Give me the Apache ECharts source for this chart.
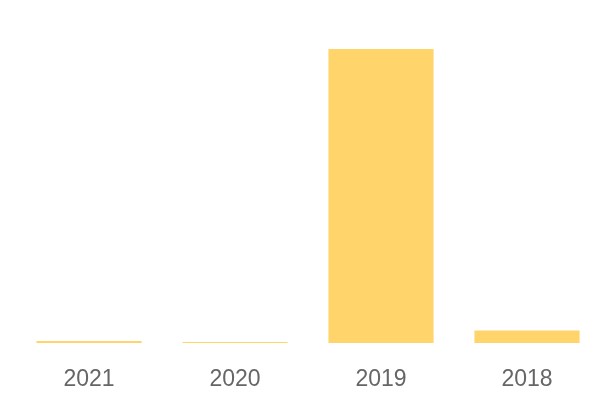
<!DOCTYPE html>
<html><head><meta charset="utf-8">
<script src="https://cdn.jsdelivr.net/npm/echarts@6/dist/echarts.min.js"></script>
<style>html,body{margin:0;padding:0;background:#fff}#c{width:600px;height:400px}</style>
</head><body><div id="c"></div>
<script>
const categories = ['2021', '2020', '2019', '2018'];
const values = [6, 3, 850, 36];

const chart = echarts.init(document.getElementById('c'));
chart.setOption({
  animation: false,
  grid: { left: 16, right: 0, top: 49, bottom: 57 },
  xAxis: {
    type: 'category',
    data: categories,
    axisLine: { show: false },
    axisTick: { show: false },
    axisLabel: { fontSize: 23, color: '#666666', margin: 25, fontFamily: 'Liberation Sans, Arial, sans-serif' }
  },
  yAxis: { type: 'value', min: 0, max: 850, show: false, splitLine: { show: false } },
  series: [{
    type: 'bar',
    data: values,
    barWidth: '72%',
    itemStyle: { color: '#FFD56B' }
  }]
});
</script></body></html>
